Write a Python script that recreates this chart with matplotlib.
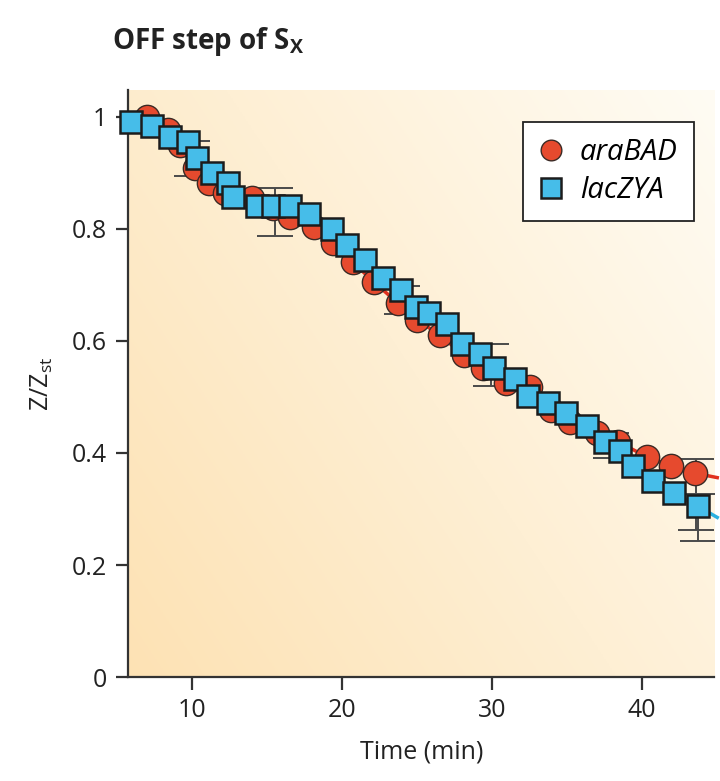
import matplotlib.pyplot as plt
import numpy as np

# araBAD (circles)
ara_t = [7.0, 8.4, 9.2, 10.2, 11.1, 12.2, 14.0, 15.4, 16.5, 18.1, 19.4, 20.7, 22.1, 23.7,
         25.0, 26.5, 28.1, 29.4, 30.9, 32.5, 33.9, 35.2, 37.0, 38.4, 40.3, 41.9, 43.5]
ara_y = [1.0, 0.977, 0.95, 0.909, 0.882, 0.864, 0.855, 0.837, 0.821, 0.804, 0.775, 0.741,
         0.705, 0.668, 0.638, 0.61, 0.575, 0.552, 0.525, 0.518, 0.477, 0.455, 0.436, 0.42,
         0.393, 0.377, 0.364]

# lacZYA (squares)
lac_t = [5.9, 7.3, 8.5, 9.7, 10.3, 11.3, 12.4, 12.7, 14.3, 15.4, 16.5, 17.8, 19.3, 20.3,
         21.5, 22.7, 23.9, 24.9, 25.8, 27.0, 28.0, 29.2, 30.1, 31.5, 32.4, 33.7, 34.9, 36.3,
         37.5, 38.5, 39.4, 40.7, 42.1, 43.7]
lac_y = [0.99, 0.984, 0.963, 0.955, 0.927, 0.9, 0.882, 0.857, 0.84, 0.84, 0.84, 0.827,
         0.8, 0.771, 0.745, 0.712, 0.691, 0.661, 0.65, 0.63, 0.595, 0.577, 0.552, 0.532,
         0.502, 0.489, 0.471, 0.448, 0.42, 0.404, 0.377, 0.35, 0.329, 0.305]

# error bars (time, low, high)
err_t = [10.0, 15.5, 24.0, 29.9, 37.9, 43.6, 43.7]
err_lo = [0.895, 0.788, 0.648, 0.52, 0.391, 0.2625, 0.243]
err_hi = [0.957, 0.873, 0.698, 0.595, 0.436, 0.389, 0.327]

# model curves near the end
fit_ara_t = [41.9, 43.5, 45.0]
fit_ara_y = [0.377, 0.364, 0.356]
fit_lac_t = [42.1, 43.7, 45.0]
fit_lac_y = [0.329, 0.305, 0.285]

plt.rcParams['font.family'] = ['Open Sans', 'DejaVu Sans']

fig = plt.figure(figsize=(7.2, 7.81), dpi=100)
ax = fig.add_axes([0.178, 0.133, 0.814, 0.752])
ax.set_xlim(5.73, 44.8)
ax.set_ylim(0, 1.048)

# background gradient
gx, gy = np.meshgrid(np.linspace(0, 1, 200), np.linspace(0, 1, 200))
g = np.clip(0.6 * gx + 0.4 * gy, 0, 1)
c0 = np.array([253, 226, 180]) / 255
c1 = np.array([255, 252, 244]) / 255
img = c0[None, None, :] * (1 - g[..., None]) + c1[None, None, :] * g[..., None]
ax.imshow(img, extent=[5.73, 44.8, 0, 1.048], origin='lower', aspect='auto', zorder=0)

# error bars
for t, lo, hi in zip(err_t, err_lo, err_hi):
    ax.errorbar([t], [(lo + hi) / 2], yerr=[[(hi - lo) / 2], [(hi - lo) / 2]],
                fmt='none', ecolor='#4a4a4a', elinewidth=1.4, capsize=13,
                capthick=1.4, zorder=2)

ax.plot(ara_t, ara_y, color='#e0301e', lw=2.5, zorder=2)
ax.plot(fit_ara_t, fit_ara_y, color='#e0301e', lw=2.5, zorder=2, clip_on=False)
ax.plot(lac_t, lac_y, color='#2ab0e0', lw=2.5, zorder=2)
ax.plot(fit_lac_t, fit_lac_y, color='#2ab0e0', lw=2.5, zorder=2, clip_on=False)

ax.plot(ara_t, ara_y, 'o', ms=17.5, mfc='#e64a2e', mec='#3a2a25', mew=1.0,
        zorder=3, label='araBAD', clip_on=False)
ax.plot(lac_t, lac_y, 's', ms=16.5, mfc='#46bde9', mec='#1c1c1c', mew=1.8,
        zorder=4, label='lacZYA', clip_on=False)

for s in ['top', 'right']:
    ax.spines[s].set_visible(False)
for s in ['left', 'bottom']:
    ax.spines[s].set_linewidth(1.6)
    ax.spines[s].set_color('#333333')

ax.set_xticks([10, 20, 30, 40])
ax.set_yticks([0, 0.2, 0.4, 0.6, 0.8, 1.0])
ax.set_yticklabels(['0', '0.2', '0.4', '0.6', '0.8', '1'])
ax.tick_params(direction='out', length=9, width=1.6, color='#333333',
               labelsize=18, labelcolor='#222222', pad=6)

ax.set_xlabel('Time (min)', fontsize=18, color='#222222', labelpad=12)
ax.set_ylabel('Z/Z$_{\\mathregular{st}}$', fontsize=18, color='#222222', labelpad=12)

leg = ax.legend(loc='upper right', bbox_to_anchor=(0.99, 0.97),
                prop={'style': 'italic', 'size': 21}, markerscale=0.85,
                fancybox=False, edgecolor='#222222', framealpha=1,
                handlelength=0.8, handletextpad=0.6, borderpad=0.55,
                labelspacing=0.3)
leg.get_frame().set_linewidth(1.3)

fig.text(0.155, 0.937, 'OFF step of S$_{\\mathregular{X}}$', fontsize=20,
         fontweight='bold', color='#222222')

fig.savefig('out.png', dpi=100)
